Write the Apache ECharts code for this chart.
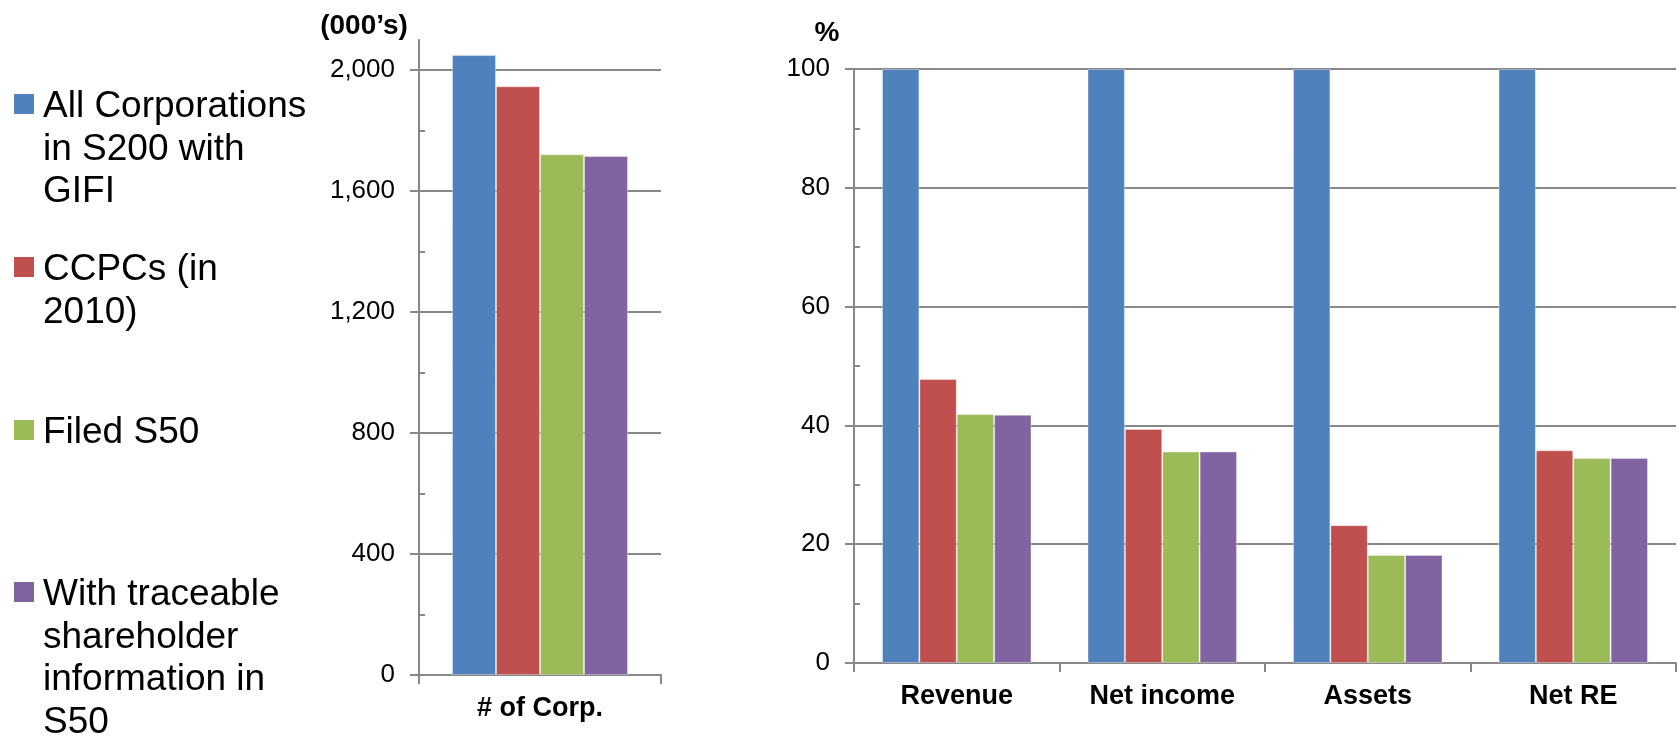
<!DOCTYPE html>
<html>
<head>
<meta charset="utf-8">
<script src="https://cdn.jsdelivr.net/npm/echarts@6/dist/echarts.min.js"></script>
<style>
  html, body { margin: 0; padding: 0; background: #ffffff; }
  #chart { width: 1677px; height: 737px; }
</style>
</head>
<body>
<div id="chart"></div>
<script>
// ---- data ----
const seriesNames = [
  'All Corporations in S200 with GIFI',
  'CCPCs (in 2010)',
  'Filed S50',
  'With traceable shareholder information in S50'
];
const legendLabels = [
  'All Corporations\nin S200 with\nGIFI',
  'CCPCs (in\n2010)',
  'Filed S50',
  'With traceable\nshareholder\ninformation in\nS50'
];
const seriesColors = ['#4F81BD', '#C0504D', '#9BBB59', '#8064A2'];

// number of corporations, thousands (one bar per series)
const countCategories = ['# of Corp.'];
const countValues = [2050, 1947, 1722, 1716];
const countUnit = '(000\u2019s)';
const countTicks = [0, 400, 800, 1200, 1600, 2000];
const countMinorTicks = [200, 600, 1000, 1400, 1800];
const countMax = 2100;

// share of the all-corporation totals, %
const shareCategories = ['Revenue', 'Net income', 'Assets', 'Net RE'];
const shareAll = [100, 100, 100, 100];
const shareCCPC = [47.8, 39.4, 23.2, 35.8];
const shareFiled = [41.9, 35.6, 18.2, 34.5];
const shareTraceable = [41.8, 35.6, 18.2, 34.5];
const shareUnit = '%';
const shareTicks = [0, 20, 40, 60, 80, 100];
const shareMinorTicks = [10, 30, 50, 70, 90];
const shareMax = 100;

// ---- styling ----
const FONT = "'Liberation Sans', Arial, Helvetica, sans-serif";
const LINE = '#888888';
const TEXT = '#000000';

const chart = echarts.init(document.getElementById('chart'), null, { renderer: 'canvas' });

function mainValueAxis(gridIndex, max, ticks) {
  return {
    type: 'value', gridIndex: gridIndex, position: 'left', min: 0, max: max,
    axisLine: { show: true, lineStyle: { color: LINE, width: 2 } },
    axisTick: { show: true, inside: false, length: 9, customValues: ticks,
                lineStyle: { color: LINE, width: 2 } },
    axisLabel: { show: true, customValues: ticks, margin: 24, color: TEXT,
                 fontFamily: FONT, fontSize: 26,
                 formatter: v => v.toLocaleString('en-US') },
    splitLine: { show: true, lineStyle: { color: LINE, width: 2 } },
    minorTick: { show: false }
  };
}
function minorValueAxis(gridIndex, max, minorTicks) {
  return {
    type: 'value', gridIndex: gridIndex, position: 'left', min: 0, max: max, offset: 0,
    axisLine: { show: false },
    axisTick: { show: true, inside: true, length: 6, customValues: minorTicks,
                lineStyle: { color: LINE, width: 2 } },
    axisLabel: { show: false },
    splitLine: { show: false }
  };
}
function categoryAxis(gridIndex, data) {
  return {
    type: 'category', gridIndex: gridIndex, data: data,
    axisLine: { show: true, lineStyle: { color: LINE, width: 2 } },
    axisTick: { show: true, alignWithLabel: false, length: 9,
                lineStyle: { color: LINE, width: 2 } },
    axisLabel: { margin: 20, color: TEXT, fontFamily: FONT, fontSize: 27, fontWeight: 'bold' },
    splitLine: { show: false }
  };
}

const barCommon = {
  type: 'bar', barGap: '0%', barCategoryGap: '27.27%', animation: false
};
function bar(name, color, xIdx, yIdx, data) {
  return Object.assign({}, barCommon, {
    name: name, xAxisIndex: xIdx, yAxisIndex: yIdx, data: data,
    itemStyle: { color: color, borderColor: 'rgba(255,255,255,0.35)', borderWidth: 1 }
  });
}

const series = [];
// left panel: each series contributes one bar to the single category
seriesNames.forEach((n, i) => series.push(bar(n, seriesColors[i], 0, 0, [countValues[i]])));
// right panel
const shareSets = [shareAll, shareCCPC, shareFiled, shareTraceable];
seriesNames.forEach((n, i) => series.push(bar(n, seriesColors[i], 1, 2, shareSets[i])));

// legend drawn down the left side, marker aligned with the first text line
const legendCenters = [104, 267, 430, 592];
const legendGraphics = [];
legendLabels.forEach((label, i) => {
  legendGraphics.push({
    type: 'rect', left: 14, top: legendCenters[i] - 10, silent: true,
    shape: { width: 20, height: 20 }, style: { fill: seriesColors[i] }
  });
  legendGraphics.push({
    type: 'text', x: 43, y: legendCenters[i] - 18, silent: true,
    style: { text: label, fill: TEXT, font: '37px ' + FONT, lineHeight: 42.5,
             textAlign: 'left', textVerticalAlign: 'top' }
  });
});

const unitGraphics = [
  { type: 'text', x: 364, y: 26, silent: true,
    style: { text: countUnit, fill: TEXT, font: 'bold 28px ' + FONT,
             textAlign: 'center', textVerticalAlign: 'middle' } },
  { type: 'text', x: 827, y: 33, silent: true,
    style: { text: shareUnit, fill: TEXT, font: 'bold 28px ' + FONT,
             textAlign: 'center', textVerticalAlign: 'middle' } }
];

chart.setOption({
  backgroundColor: '#ffffff',
  animation: false,
  grid: [
    { left: 419, right: 1016, top: 40, bottom: 62, containLabel: false },
    { left: 854, right: 1, top: 69, bottom: 74, containLabel: false }
  ],
  xAxis: [categoryAxis(0, countCategories), categoryAxis(1, shareCategories)],
  yAxis: [
    mainValueAxis(0, countMax, countTicks),
    minorValueAxis(0, countMax, countMinorTicks),
    mainValueAxis(1, shareMax, shareTicks),
    minorValueAxis(1, shareMax, shareMinorTicks)
  ],
  series: series,
  graphic: legendGraphics.concat(unitGraphics)
});
</script>
</body>
</html>
